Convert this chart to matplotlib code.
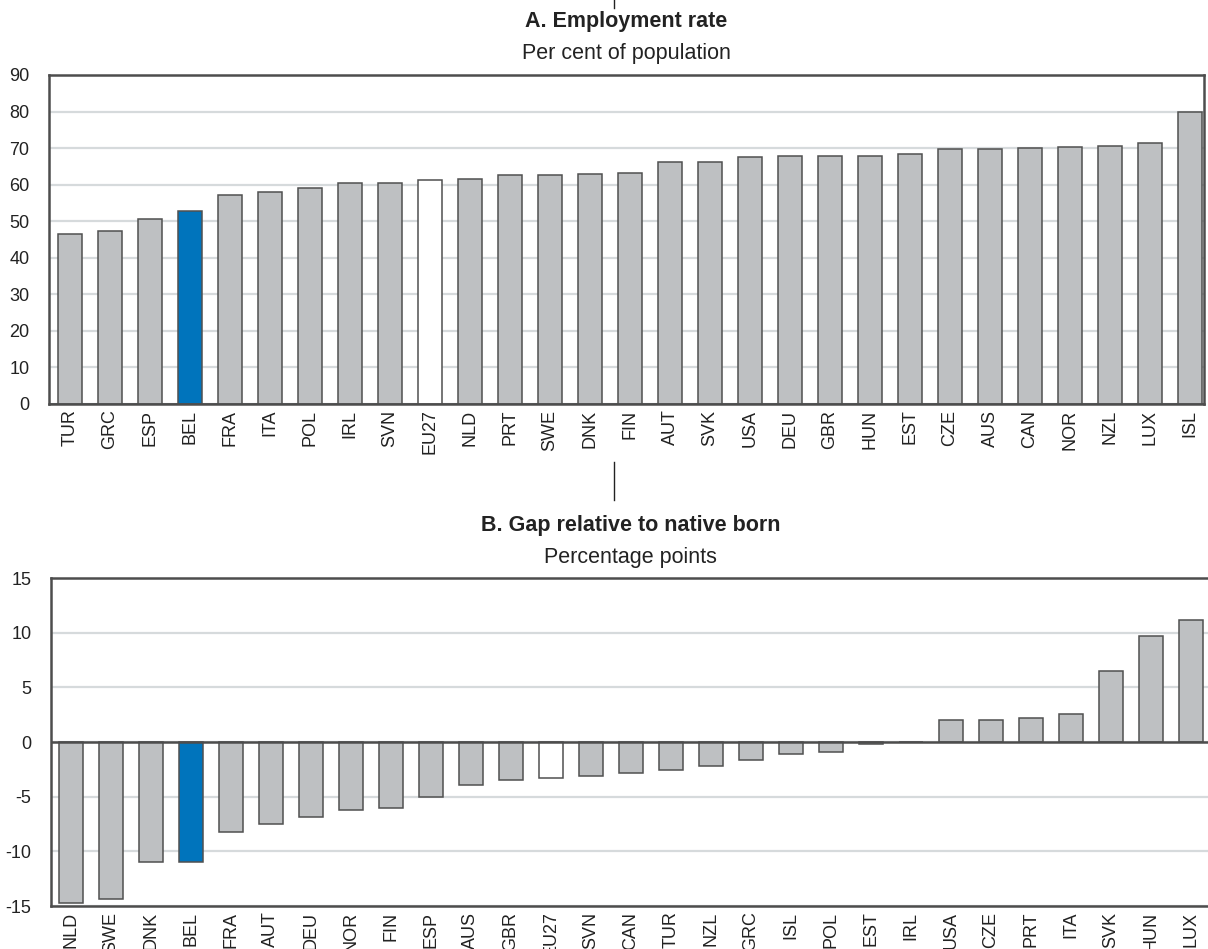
import matplotlib
matplotlib.use("Agg")
import matplotlib.pyplot as plt
from matplotlib.lines import Line2D

plt.rcParams['font.family'] = ['Liberation Sans', 'DejaVu Sans']
plt.rcParams['axes.unicode_minus'] = False

# Panel A: employment rate, per cent of population
emp_countries = ['TUR', 'GRC', 'ESP', 'BEL', 'FRA', 'ITA', 'POL', 'IRL', 'SVN', 'EU27',
                 'NLD', 'PRT', 'SWE', 'DNK', 'FIN', 'AUT', 'SVK', 'USA', 'DEU', 'GBR',
                 'HUN', 'EST', 'CZE', 'AUS', 'CAN', 'NOR', 'NZL', 'LUX', 'ISL']
emp_values = [46.5, 47.3, 50.5, 52.7, 57.1, 57.9, 59.1, 60.5, 60.5, 61.4,
              61.5, 62.6, 62.6, 62.8, 63.3, 66.3, 66.3, 67.6, 67.7, 67.7,
              67.7, 68.3, 69.8, 69.8, 69.9, 70.3, 70.5, 71.5, 79.9]

# Panel B: gap relative to native born, percentage points
gap_countries = ['NLD', 'SWE', 'DNK', 'BEL', 'FRA', 'AUT', 'DEU', 'NOR', 'FIN', 'ESP',
                 'AUS', 'GBR', 'EU27', 'SVN', 'CAN', 'TUR', 'NZL', 'GRC', 'ISL', 'POL',
                 'EST', 'IRL', 'USA', 'CZE', 'PRT', 'ITA', 'SVK', 'HUN', 'LUX']
gap_values = [-14.7, -14.4, -11.0, -11.0, -8.2, -7.5, -6.9, -6.2, -6.0, -5.0,
              -3.9, -3.5, -3.3, -3.1, -2.8, -2.6, -2.2, -1.6, -1.1, -0.9,
              -0.2, 0.0, 2.05, 2.05, 2.2, 2.6, 6.5, 9.7, 11.2]

GREY = '#bec0c2'
BLUE = '#0074bc'
EDGE = '#505050'
SPINE = '#4d4d4d'
GRID = '#d6dadc'


def colours(names):
    fc = []
    for n in names:
        if n == 'BEL':
            fc.append(BLUE)
        elif n == 'EU27':
            fc.append('white')
        else:
            fc.append(GREY)
    return fc


def draw(ax, names, values, xlim, ylim, yticks, title, subtitle):
    x = range(len(names))
    ax.bar(x, values, width=0.6, color=colours(names), edgecolor=EDGE,
           linewidth=1.1, zorder=3)
    ax.set_xlim(*xlim)
    ax.set_ylim(*ylim)
    ax.set_yticks(yticks)
    ax.set_xticks(list(x))
    ax.set_xticklabels(names, rotation=90, fontsize=13, color='#222222')
    ax.tick_params(axis='y', labelsize=13, length=0, pad=14, colors='#222222')
    ax.tick_params(axis='x', length=0, pad=4)
    ax.grid(axis='y', color=GRID, linewidth=1.6, zorder=0)
    for s in ax.spines.values():
        s.set_color(SPINE)
        s.set_linewidth(1.8)
    ax.axhline(0, color=SPINE, linewidth=1.8, zorder=4)
    h = ax.bbox.height
    ax.text(0.5, 1 + 53 / h, title, transform=ax.transAxes, ha='center', va='center',
            fontsize=15.5, fontweight='bold', color='#222222')
    ax.text(0.5, 1 + 21 / h, subtitle, transform=ax.transAxes, ha='center', va='center',
            fontsize=15.5, color='#222222')


fig = plt.figure(figsize=(12.08, 9.49), dpi=100)
ax1 = fig.add_axes([0.04056, 0.5743, 0.9561, 0.3467])
ax2 = fig.add_axes([0.04222, 0.0453, 0.9594, 0.3456])

draw(ax1, emp_countries, emp_values, (-0.525, 28.35), (0, 90), range(0, 91, 10),
     'A. Employment rate', 'Per cent of population')
draw(ax2, gap_countries, gap_values, (-0.5, 28.48), (-15, 15), range(-15, 16, 5),
     'B. Gap relative to native born', 'Percentage points')

# small separator marks from the source layout
fig.add_artist(Line2D([0.5083, 0.5083], [1.0, 0.992], color='#222222', linewidth=1))
fig.add_artist(Line2D([0.5083, 0.5083], [0.513, 0.473], color='#222222', linewidth=1))

fig.savefig('out.png', dpi=100)
